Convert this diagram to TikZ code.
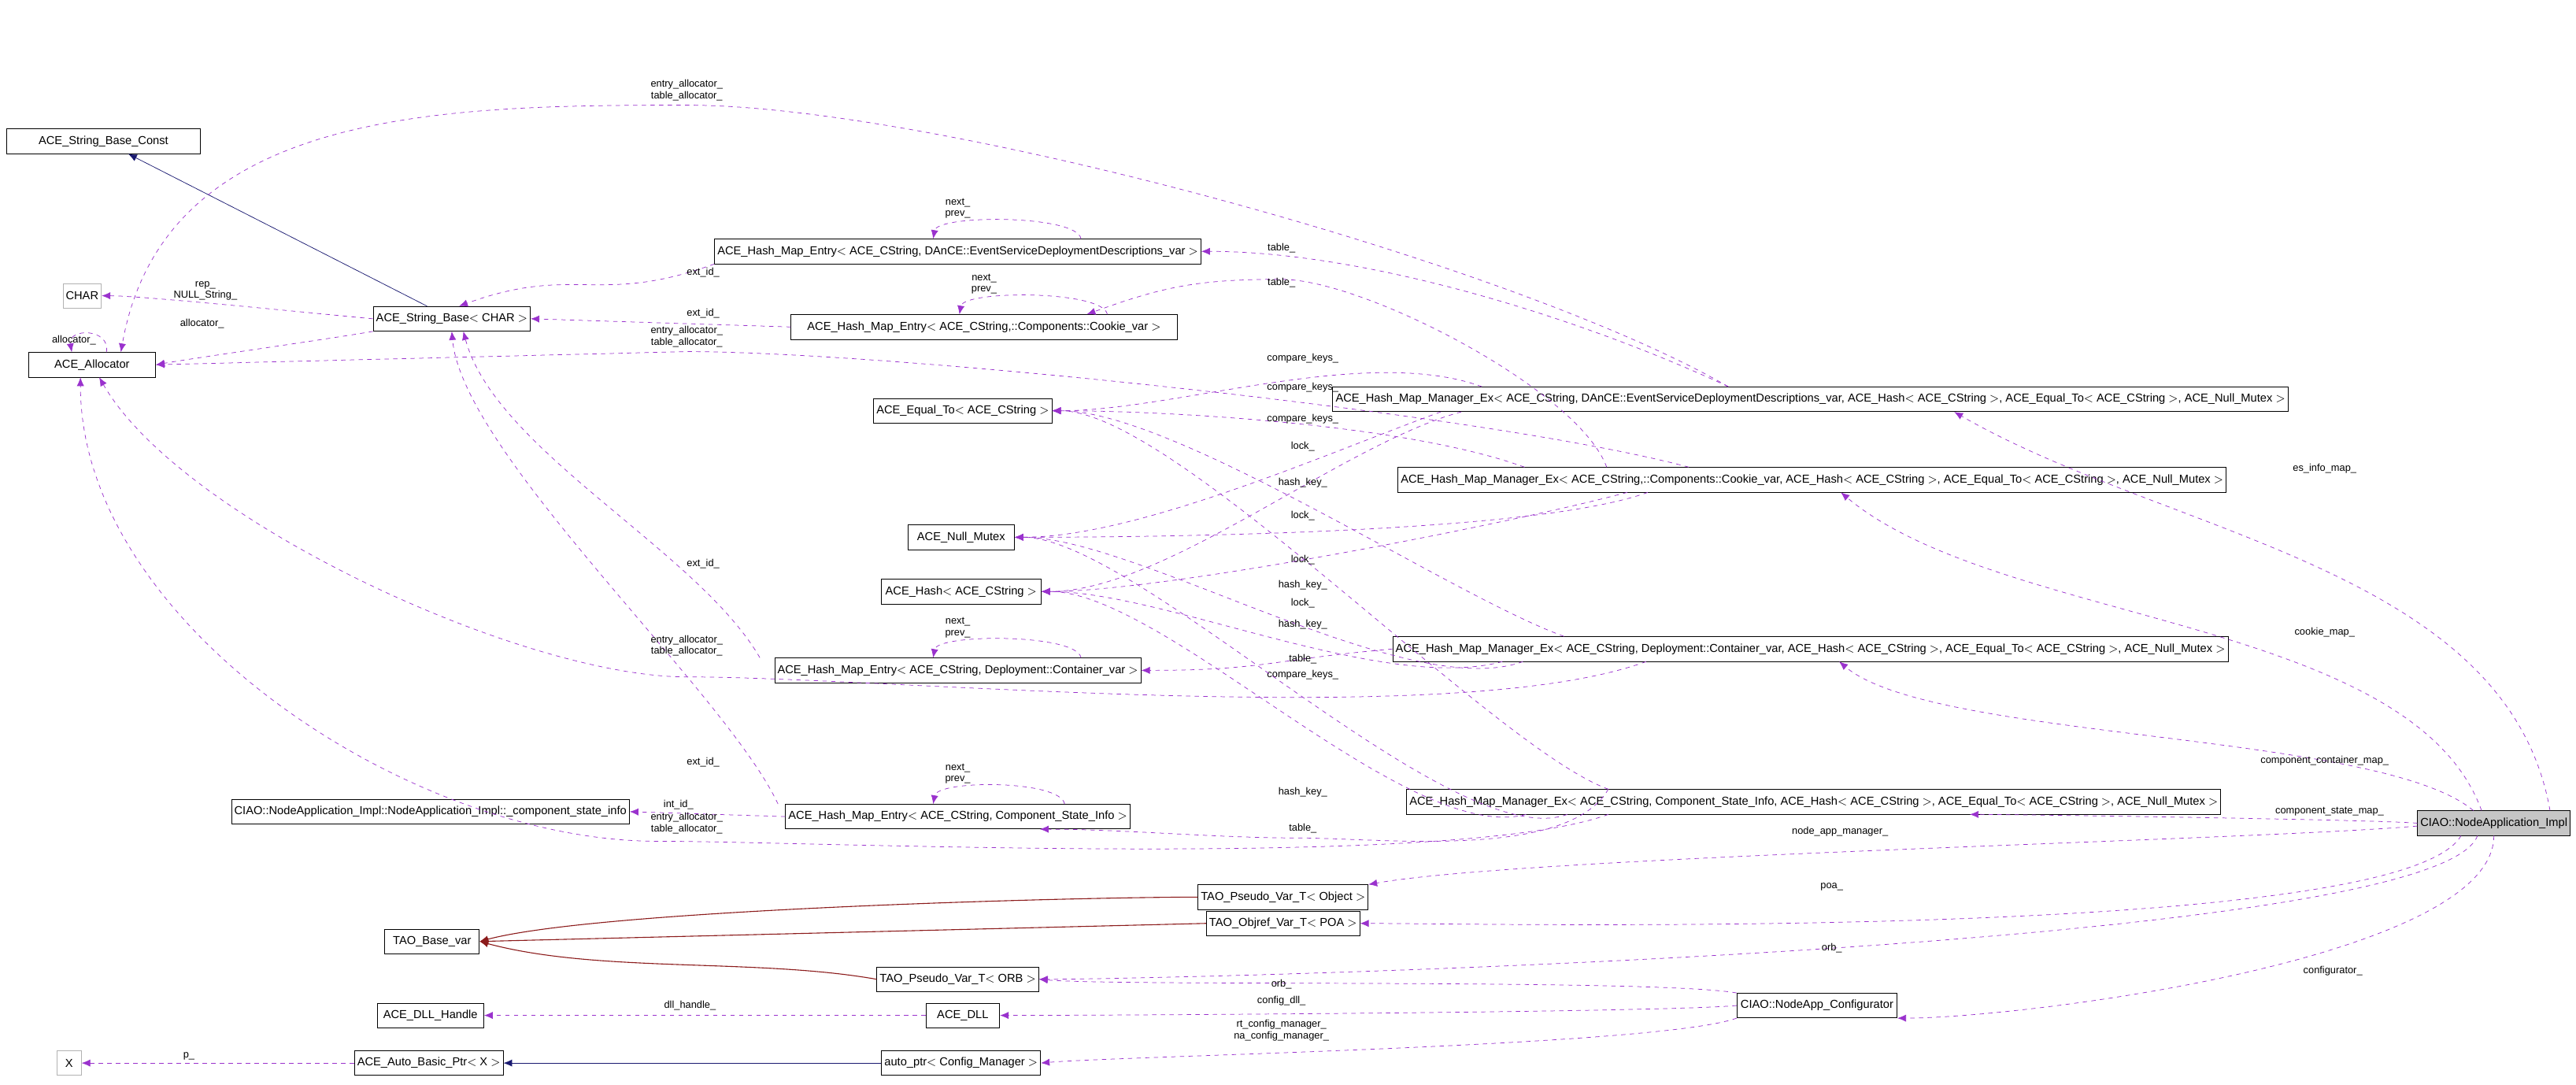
\documentclass[tikz,border=0pt]{standalone}
\usepackage{fontspec}
\setmainfont{Liberation Sans}
\usetikzlibrary{positioning, arrows.meta}

\definecolor{relcol}{HTML}{9A32CD}
\definecolor{inhcol}{HTML}{191970}
\definecolor{tplcol}{HTML}{8B1A1A}

\tikzset{
  cls/.style={draw, rectangle, inner sep=2pt, minimum height=0.6cm, font=\fontsize{8}{9}\selectfont},
  extcls/.style={cls, draw=gray!60},
  selcls/.style={cls, fill=gray!45},
  rel/.style={draw=relcol, dashed, distance=3cm, -{Latex[length=6pt,width=5pt]}},
  inh/.style={draw=inhcol, -{Latex[length=6pt,width=5pt]}},
  tpl/.style={draw=tplcol, semithick, distance=3cm, -{Latex[length=6pt,width=5pt]}},
  lab/.style={font=\fontsize{7}{8}\selectfont, align=center, inner sep=1pt}
}

\begin{document}
\begin{tikzpicture}[x=0.04cm, y=-0.04cm]
        \useasboundingbox (0,0) rectangle (1568,660);

        % Left column
        \node[cls, minimum width=4.7cm] (StrConst) at (63,86) {ACE\_String\_Base\_Const};
        \node[extcls] (Char) at (50,180) {CHAR};
        \node[cls, minimum width=3.1cm] (Alloc) at (56,222) {ACE\_Allocator};
        \node[cls, minimum width=3.8cm] (StrBase) at (275,194) {ACE\_String\_Base$<$ CHAR $>$};

        % Hash map entries and helpers
        \node[cls, minimum width=10.9cm] (EntryES) at (583,153) {ACE\_Hash\_Map\_Entry$<$ ACE\_CString, DAnCE::EventServiceDeploymentDescriptions\_var $>$};
        \node[cls, minimum width=9.4cm] (EntryCookie) at (599,199) {ACE\_Hash\_Map\_Entry$<$ ACE\_CString,::Components::Cookie\_var $>$};
        \node[cls, minimum width=4.3cm] (EqualTo) at (586,250) {ACE\_Equal\_To$<$ ACE\_CString $>$};
        \node[cls, minimum width=2.6cm] (Mutex) at (585,327) {ACE\_Null\_Mutex};
        \node[cls, minimum width=3.9cm] (Hash) at (585,360) {ACE\_Hash$<$ ACE\_CString $>$};
        \node[cls, minimum width=8.5cm] (EntryCont) at (583,408) {ACE\_Hash\_Map\_Entry$<$ ACE\_CString, Deployment::Container\_var $>$};
        \node[cls, minimum width=9.2cm] (StateInfo) at (262,494) {CIAO::NodeApplication\_Impl::NodeApplication\_Impl::\_component\_state\_info};
        \node[cls, minimum width=8.0cm] (EntryState) at (583,497) {ACE\_Hash\_Map\_Entry$<$ ACE\_CString, Component\_State\_Info $>$};

        % Hash map managers
        \node[cls, minimum width=20.9cm] (MgrES) at (1102,243) {ACE\_Hash\_Map\_Manager\_Ex$<$ ACE\_CString, DAnCE::EventServiceDeploymentDescriptions\_var, ACE\_Hash$<$ ACE\_CString $>$, ACE\_Equal\_To$<$ ACE\_CString $>$, ACE\_Null\_Mutex $>$};
        \node[cls, minimum width=18.2cm] (MgrCookie) at (1103,292) {ACE\_Hash\_Map\_Manager\_Ex$<$ ACE\_CString,::Components::Cookie\_var, ACE\_Hash$<$ ACE\_CString $>$, ACE\_Equal\_To$<$ ACE\_CString $>$, ACE\_Null\_Mutex $>$};
        \node[cls, minimum width=18.2cm] (MgrCont) at (1102,395) {ACE\_Hash\_Map\_Manager\_Ex$<$ ACE\_CString, Deployment::Container\_var, ACE\_Hash$<$ ACE\_CString $>$, ACE\_Equal\_To$<$ ACE\_CString $>$, ACE\_Null\_Mutex $>$};
        \node[cls, minimum width=17.9cm] (MgrState) at (1104,488) {ACE\_Hash\_Map\_Manager\_Ex$<$ ACE\_CString, Component\_State\_Info, ACE\_Hash$<$ ACE\_CString $>$, ACE\_Equal\_To$<$ ACE\_CString $>$, ACE\_Null\_Mutex $>$};

        % Main class
        \node[selcls, minimum width=3.7cm] (Impl) at (1518,501) {CIAO::NodeApplication\_Impl};

        % Bottom part
        \node[cls, minimum width=3.9cm] (VarObj) at (781,546) {TAO\_Pseudo\_Var\_T$<$ Object $>$};
        \node[cls, minimum width=3.7cm] (VarPoa) at (781,562) {TAO\_Objref\_Var\_T$<$ POA $>$};
        \node[cls, minimum width=2.3cm] (BaseVar) at (263,573) {TAO\_Base\_var};
        \node[cls, minimum width=3.9cm] (VarOrb) at (583,596) {TAO\_Pseudo\_Var\_T$<$ ORB $>$};
        \node[cls, minimum width=2.6cm] (DllHandle) at (262,618) {ACE\_DLL\_Handle};
        \node[cls, minimum width=1.8cm] (Dll) at (586,618) {ACE\_DLL};
        \node[cls, minimum width=3.9cm] (Conf) at (1106,612) {CIAO::NodeApp\_Configurator};
        \node[extcls, minimum width=0.6cm] (X) at (42,647) {X};
        \node[cls, minimum width=3.3cm] (AutoBasic) at (261,647) {ACE\_Auto\_Basic\_Ptr$<$ X $>$};
        \node[cls, minimum width=3.8cm] (AutoPtr) at (585,647) {auto\_ptr$<$ Config\_Manager $>$};

        % Inheritance
        \draw[inh] (StrBase) -- (StrConst);
        \draw[inh] (AutoPtr) -- (AutoBasic);
        \draw[tpl] (VarObj.west) to[out=180,in=15] (BaseVar.east);
        \draw[tpl] (VarPoa.west) -- (BaseVar.east);
        \draw[tpl] (VarOrb.west) to[out=170,in=-15] (BaseVar.east);

        % String base
        \draw[rel] (StrBase.west) to[out=175,in=0,distance=1cm] (Char.east);
        \node[lab] at (125,177) {rep\_\\NULL\_String\_};
        \draw[rel] (StrBase.south west) to[out=190,in=10,distance=1cm] (Alloc.east);
        \node[lab] at (123,197) {allocator\_};
        \draw[rel] ([xshift=10pt]Alloc.north) to[out=80,in=100,distance=0.6cm] ([xshift=-14pt]Alloc.north);
        \node[lab] at (45,207) {allocator\_};

        % Entries
        \draw[rel] (EntryES.south west) to[out=200,in=20] ([xshift=5pt]StrBase.north);
        \node[lab] at (428,166) {ext\_id\_};
        \draw[rel] (EntryCookie.west) -- (StrBase.east);
        \node[lab] at (428,191) {ext\_id\_};
        \draw[rel] ([xshift=-10pt]EntryCont.north west) to[out=120,in=-75] ([xshift=8pt]StrBase.south);
        \node[lab] at (428,343) {ext\_id\_};
        \draw[rel] ([xshift=-5pt]EntryState.north west) to[out=115,in=-85] (StrBase.south);
        \node[lab] at (428,464) {ext\_id\_};
        \draw[rel] (EntryState.west) -- (StateInfo.east);
        \node[lab] at (413,490) {int\_id\_};
        \foreach \e/\w in {EntryES/3cm, EntryCookie/3cm, EntryCont/3cm, EntryState/2.6cm} {
            \draw[rel] ([xshift=\w]\e.north) to[out=100,in=80,distance=0.6cm] ([xshift=-0.6cm]\e.north);
        }
        \foreach \e in {EntryES, EntryCookie, EntryCont, EntryState}
            \node[lab, above=0.45cm of \e.north] {next\_\\prev\_};

        % Managers to allocator
        \draw[rel] ([xshift=-2cm]MgrES.north) to[out=150,in=0,distance=6cm] (418,64) to[out=180,in=80,distance=6cm] ([xshift=20pt]Alloc.north);
        \node[lab] at (418,55) {entry\_allocator\_\\table\_allocator\_};
        \draw[rel] ([xshift=-3cm]MgrCookie.north) to[out=165,in=0,distance=5cm] (418,214) -- (Alloc.east);
        \node[lab] at (418,205) {entry\_allocator\_\\table\_allocator\_};
        \draw[rel] ([xshift=-4cm]MgrCont.south) to[out=200,in=0,distance=5cm] (418,412) to[out=180,in=-60,distance=4cm] ([xshift=5pt]Alloc.south);
        \node[lab] at (418,393) {entry\_allocator\_\\table\_allocator\_};
        \draw[rel] ([xshift=-5cm]MgrState.south) to[out=200,in=0,distance=4cm] (400,512) to[out=180,in=-90,distance=6cm] ([xshift=-8pt]Alloc.south);
        \node[lab] at (418,501) {entry\_allocator\_\\table\_allocator\_};

        % Managers to tables
        \draw[rel] ([xshift=-2cm]MgrES.north) to[out=155,in=0,distance=4cm] (EntryES.east);
        \node[lab] at (780,151) {table\_};
        \draw[rel] ([xshift=-5cm]MgrCookie.north) to[out=110,in=0,distance=2cm] (780,170) to[out=180,in=20,distance=2cm] ([xshift=2.5cm]EntryCookie.north);
        \node[lab] at (780,172) {table\_};
        \draw[rel] (MgrCont.west) to[out=185,in=0] (EntryCont.east);
        \node[lab] at (793,401) {table\_};
        \draw[rel] ([xshift=-5cm]MgrState.north) to[out=-120,in=0,distance=2cm] (790,510) to[out=180,in=0,distance=2cm] ([xshift=2cm]EntryState.south);
        \node[lab] at (793,504) {table\_};

        % Managers to helpers
        \foreach \m/\b in {MgrES/-8, MgrCookie/-7, MgrCont/-6, MgrState/-5}
            \draw[rel] ([xshift=\b cm]\m.north) to[out=160,in=0] (EqualTo.east);
        \foreach \y in {218,236,255,411}
            \node[lab] at (793,\y) {compare\_keys\_};
        \foreach \m/\b in {MgrES/-9, MgrCookie/-4, MgrCont/-7, MgrState/-6}
            \draw[rel] ([xshift=\b cm]\m.south) to[out=200,in=0] (Mutex.east);
        \foreach \y in {272,314,341,367}
            \node[lab] at (793,\y) {lock\_};
        \foreach \m/\b in {MgrES/-8.5, MgrCookie/-4.5, MgrCont/-7.5, MgrState/-7}
            \draw[rel] ([xshift=\b cm]\m.south) to[out=195,in=0] (Hash.east);
        \foreach \y in {294,356,380,482}
            \node[lab] at (793,\y) {hash\_key\_};

        % Main class members
        \draw[rel] ([xshift=-0.5cm]Impl.north east) to[out=100,in=-30,distance=6cm] ([xshift=3.5cm]MgrES.south);
        \node[lab] at (1415,285) {es\_info\_map\_};
        \draw[rel] ([xshift=-0.3cm]Impl.north) to[out=110,in=-40,distance=5cm] ([xshift=0.7cm]MgrCookie.south);
        \node[lab] at (1415,385) {cookie\_map\_};
        \draw[rel] ([xshift=-0.5cm]Impl.north) to[out=140,in=-40] ([xshift=0.7cm]MgrCont.south);
        \node[lab] at (1415,463) {component\_container\_map\_};
        \draw[rel] (Impl.west) to[out=175,in=0,distance=1cm] ([xshift=3.8cm]MgrState.south);
        \node[lab] at (1418,494) {component\_state\_map\_};
        \draw[rel] ([yshift=-2pt]Impl.west) to[out=185,in=10,distance=4cm] (VarObj.north east);
        \node[lab] at (1120,506) {node\_app\_manager\_};
        \draw[rel] ([xshift=-0.8cm]Impl.south) to[out=-120,in=0] (VarPoa.east);
        \node[lab] at (1115,540) {poa\_};
        \draw[rel] ([xshift=-0.4cm]Impl.south) to[out=-110,in=0] (VarOrb.east);
        \node[lab] at (1115,577) {orb\_};
        \draw[rel] (Impl.south) to[out=-90,in=0] (Conf.south east);
        \node[lab] at (1420,591) {configurator\_};

        % Configurator
        \draw[rel] (Conf.north west) to[out=170,in=-5,distance=2cm] (VarOrb.east);
        \node[lab] at (780,599) {orb\_};
        \draw[rel] (Conf.west) to[out=185,in=0,distance=2cm] (Dll.east);
        \node[lab] at (780,609) {config\_dll\_};
        \draw[rel] (Conf.south west) to[out=200,in=5,distance=2cm] (AutoPtr.east);
        \node[lab] at (780,627) {rt\_config\_manager\_\\na\_config\_manager\_};
        \draw[rel] (Dll) -- (DllHandle);
        \node[lab] at (420,612) {dll\_handle\_};
        \draw[rel] (AutoBasic) -- (X);
        \node[lab] at (115,643) {p\_};
    \end{tikzpicture}
\end{document}
